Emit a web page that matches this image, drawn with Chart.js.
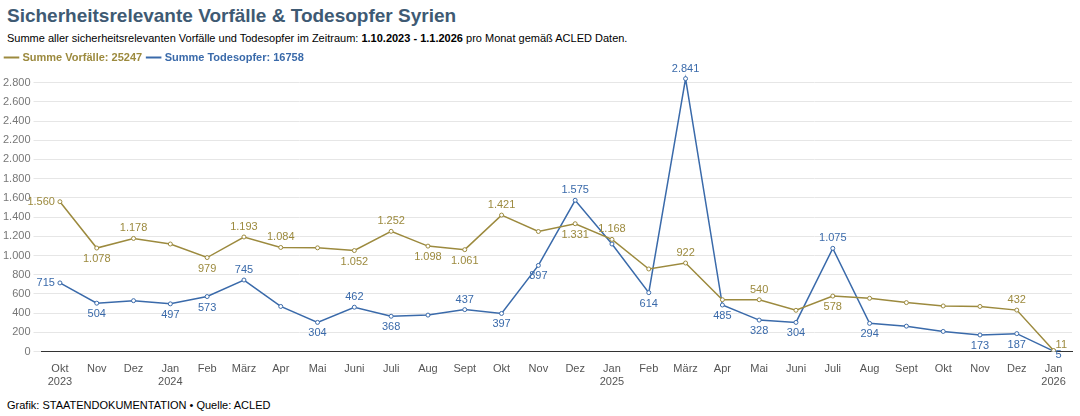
<!DOCTYPE html>
<html><head><meta charset="utf-8">
<script src="https://cdn.jsdelivr.net/npm/chart.js@4"></script>
<style>
body{margin:0;font-family:"Liberation Sans",Arial,sans-serif;background:#fff;}
h1{font-size:19px;color:#3e5a73;margin:5px 0 0 7px;font-weight:bold;}
.sub{font-size:11px;margin:5px 0 0 7px;color:#000;}
.foot{position:absolute;left:7px;top:399px;font-size:11px;}
#wrap{position:absolute;left:0;top:46px;width:1080px;height:346px;}
</style></head><body>
<h1>Sicherheitsrelevante Vorfälle &amp; Todesopfer Syrien</h1>
<div class="sub">Summe aller sicherheitsrelevanten Vorfälle und Todesopfer im Zeitraum: <b>1.10.2023 - 1.1.2026</b> pro Monat gemäß ACLED Daten.</div>
<div id="wrap"><canvas id="c"></canvas></div>
<div class="foot">Grafik: STAATENDOKUMENTATION • Quelle: ACLED</div>
<script>
// Categories
const months = [['Okt','2023'],'Nov','Dez',['Jan','2024'],'Feb','März','Apr','Mai','Juni','Juli','Aug','Sept','Okt','Nov','Dez',['Jan','2025'],'Feb','März','Apr','Mai','Juni','Juli','Aug','Sept','Okt','Nov','Dez',['Jan','2026']];
// Series
const incidents = [1560,1078,1178,1120,979,1193,1084,1080,1052,1252,1098,1061,1421,1250,1331,1168,860,922,540,540,430,578,555,510,475,470,432,11];
const deaths = [715,504,530,497,573,745,470,304,462,368,380,437,397,897,1575,1120,614,2841,485,328,304,1075,294,265,210,173,187,5];
// Y tick values
const yTicks = [0,200,400,600,800,1000,1200,1400,1600,1800,2000,2200,2400,2600,2800];
// Label positions: a=above, b=below, l=left, r=right, null=none
const incLabels = ['l','b','a',null,'b','a','a',null,'b','a','b','b','a',null,'b','a',null,'a',null,'a',null,'b',null,null,null,null,'a','r'];
const dthLabels = ['l','b',null,'b','b','a',null,'b','a','b',null,'a','b','b','a',null,'b','a','b','b','b','a','b',null,null,'b','b','r'];

const fmt = v => v.toLocaleString('de-DE');
const gold = '#9c8a3e', blue = '#3a6aaa';

const labelPlugin = {
  id: 'labels',
  afterDatasetsDraw(chart) {
    const ctx = chart.ctx;
    ctx.save();
    ctx.font = '11px "Liberation Sans", Arial';
    chart.data.datasets.forEach((ds, di) => {
      const pos = di === 0 ? incLabels : dthLabels;
      chart.getDatasetMeta(di).data.forEach((pt, i) => {
        const p = pos[i];
        if (!p) return;
        ctx.fillStyle = ds.borderColor;
        let x = pt.x, y = pt.y;
        ctx.textAlign = 'center'; ctx.textBaseline = 'middle';
        if (p === 'a') y -= 10;
        else if (p === 'b') y += 11;
        else if (p === 'l') { x -= 5; ctx.textAlign = 'right'; }
        else if (p === 'r') { x += 2; y -= 6; ctx.textAlign = 'left'; if (di === 1) y += 10; }
        ctx.fillText(fmt(ds.data[i]), x, y);
      });
    });
    ctx.restore();
  }
};

const mk = (label, data, color) => ({
  label, data, borderColor: color, backgroundColor: '#fff',
  borderWidth: 1.5, pointRadius: 2, pointBorderWidth: 1, pointStyle: 'circle', tension: 0
});

new Chart(document.getElementById('c'), {
  type: 'line',
  data: { labels: months, datasets: [
    mk('Summe Vorfälle: 25247', incidents, gold),
    mk('Summe Todesopfer: 16758', deaths, blue)
  ]},
  options: {
    responsive: true, maintainAspectRatio: false, animation: false,
    layout: { padding: { left: 0, right: 8, top: 0 } },
    plugins: {
      legend: { position: 'top', align: 'start',
        labels: { usePointStyle: true, pointStyle: 'line', boxWidth: 12, padding: 6,
          font: { size: 11, weight: 'bold', family: '"Liberation Sans", Arial' },
          generateLabels(chart) {
            return chart.data.datasets.map((d, i) => ({
              text: d.label, fillStyle: d.borderColor, strokeStyle: d.borderColor,
              fontColor: d.borderColor, lineWidth: 2, pointStyle: 'line', datasetIndex: i
            }));
          } } },
      tooltip: { enabled: false }
    },
    scales: {
      x: { offset: true, grid: { display: false }, border: { color: '#333' },
        ticks: { color: '#555', font: { size: 11 }, maxRotation: 0, autoSkip: false } },
      y: { min: 0, max: 2900, border: { display: false },
        grid: { color: '#e6e6e6' },
        afterBuildTicks(s) { s.ticks = yTicks.map(v => ({ value: v })); },
        ticks: { color: '#777', font: { size: 11 }, callback: v => fmt(v) } }
    }
  },
  plugins: [labelPlugin]
});
</script>
</body></html>
